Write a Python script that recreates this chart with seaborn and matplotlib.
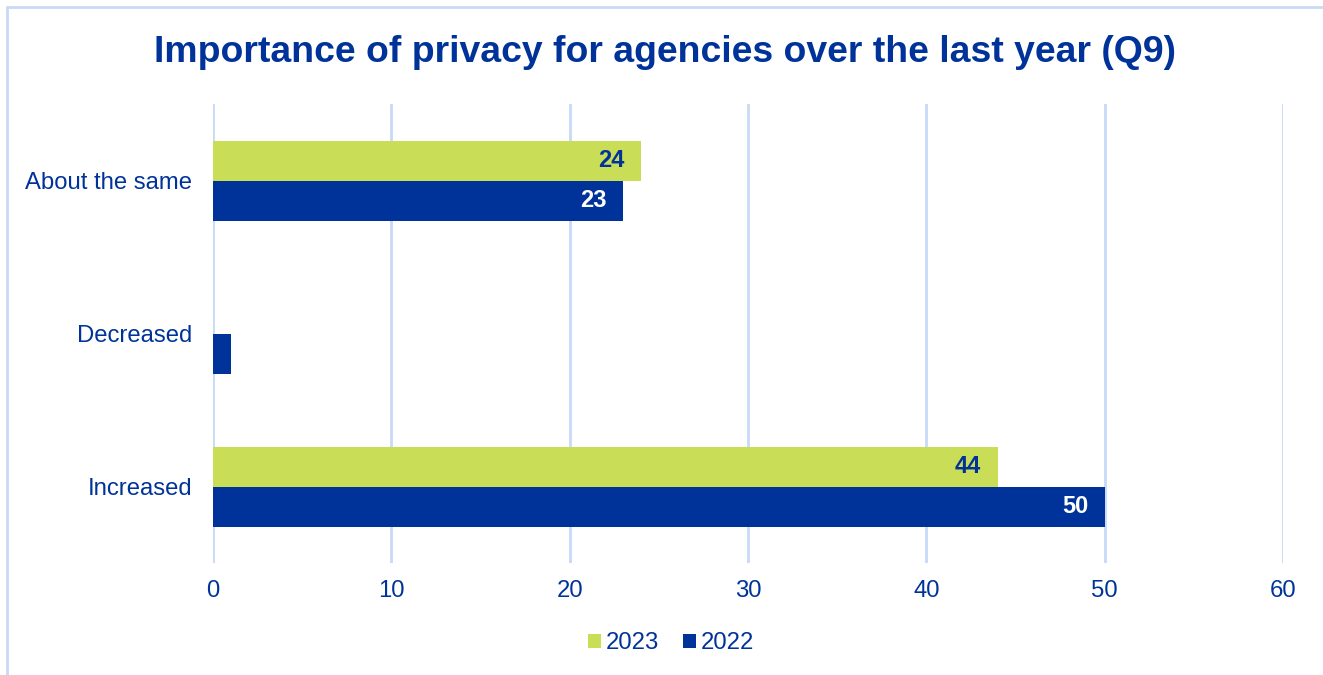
import matplotlib
matplotlib.use("Agg")
import matplotlib.pyplot as plt
from matplotlib.lines import Line2D
from matplotlib.patches import Patch
import seaborn as sns
import pandas as pd

# Survey responses (Q9): change in the importance of privacy for agencies
categories = ["About the same", "Decreased", "Increased"]
years = ["2023", "2022"]
values_2023 = [24, 0, 44]
values_2022 = [23, 1, 50]
# value labels shown on the bars (None = no label)
labels_2023 = [24, None, 44]
labels_2022 = [23, None, 50]
x_ticks = [0, 10, 20, 30, 40, 50, 60]

NAVY = "#003399"
GREEN = "#CADD56"
GRID = "#C9D9F7"

df = pd.DataFrame({
    "category": categories * 2,
    "year": ["2023"] * len(categories) + ["2022"] * len(categories),
    "value": values_2023 + values_2022,
})

sns.set_theme(style="white")
plt.rcParams["font.family"] = ["Liberation Sans", "DejaVu Sans"]

fig = plt.figure(figsize=(13.23, 6.75), dpi=100)
ax = fig.add_axes([0.161, 0.1659, 0.9698 - 0.161, 0.8459 - 0.1659])

sns.barplot(data=df, y="category", x="value", hue="year", order=categories,
            hue_order=years, palette={"2023": GREEN, "2022": NAVY},
            orient="h", width=0.523, gap=0, saturation=1, legend=False,
            linewidth=0, ax=ax)

ax.set_xlim(0, 60)
ax.set_ylim(2.5, -0.5)
ax.set_xticks(x_ticks)
ax.set_xticklabels([str(t) for t in x_ticks])
ax.set_xlabel("")
ax.set_ylabel("")
ax.grid(axis="x", color=GRID, linewidth=2)
ax.set_axisbelow(True)
for s in ax.spines.values():
    s.set_visible(False)
ax.tick_params(axis="both", length=0, labelsize=17.2, labelcolor=NAVY)
ax.tick_params(axis="y", pad=15)
ax.tick_params(axis="x", pad=12)

# value labels inside the bar ends
bar_h = 0.523 / 2
for i, cat in enumerate(categories):
    for lab, val, off, col in [(labels_2023[i], values_2023[i], -bar_h / 2, NAVY),
                               (labels_2022[i], values_2022[i], bar_h / 2, "white")]:
        if lab is None:
            continue
        ax.annotate(str(lab), xy=(val, i + off), xytext=(-12, 0),
                    textcoords="offset points", ha="right", va="center",
                    fontsize=17, fontweight="bold", color=col)

fig.text(0.503, 0.922, "Importance of privacy for agencies over the last year (Q9)",
         ha="center", va="center", fontsize=26.9, fontweight="bold", color=NAVY)

handles = [Patch(facecolor=GREEN, edgecolor="none", label="2023"),
           Patch(facecolor=NAVY, edgecolor="none", label="2022")]
fig.legend(handles=handles, loc="center", bbox_to_anchor=(0.5075, 0.047), ncol=2,
           frameon=False, fontsize=17.2, handlelength=0.55, handleheight=0.55,
           handletextpad=0.2, columnspacing=1.0, labelcolor=NAVY)

# chart border along the top and left edges
fig.add_artist(Line2D([0.0053, 1.0], [0.9889, 0.9889], transform=fig.transFigure,
                      color=GRID, linewidth=2))
fig.add_artist(Line2D([0.0053, 0.0053], [0.0, 0.9889], transform=fig.transFigure,
                      color=GRID, linewidth=2))

fig.savefig("out.png", dpi=100, facecolor="white")
